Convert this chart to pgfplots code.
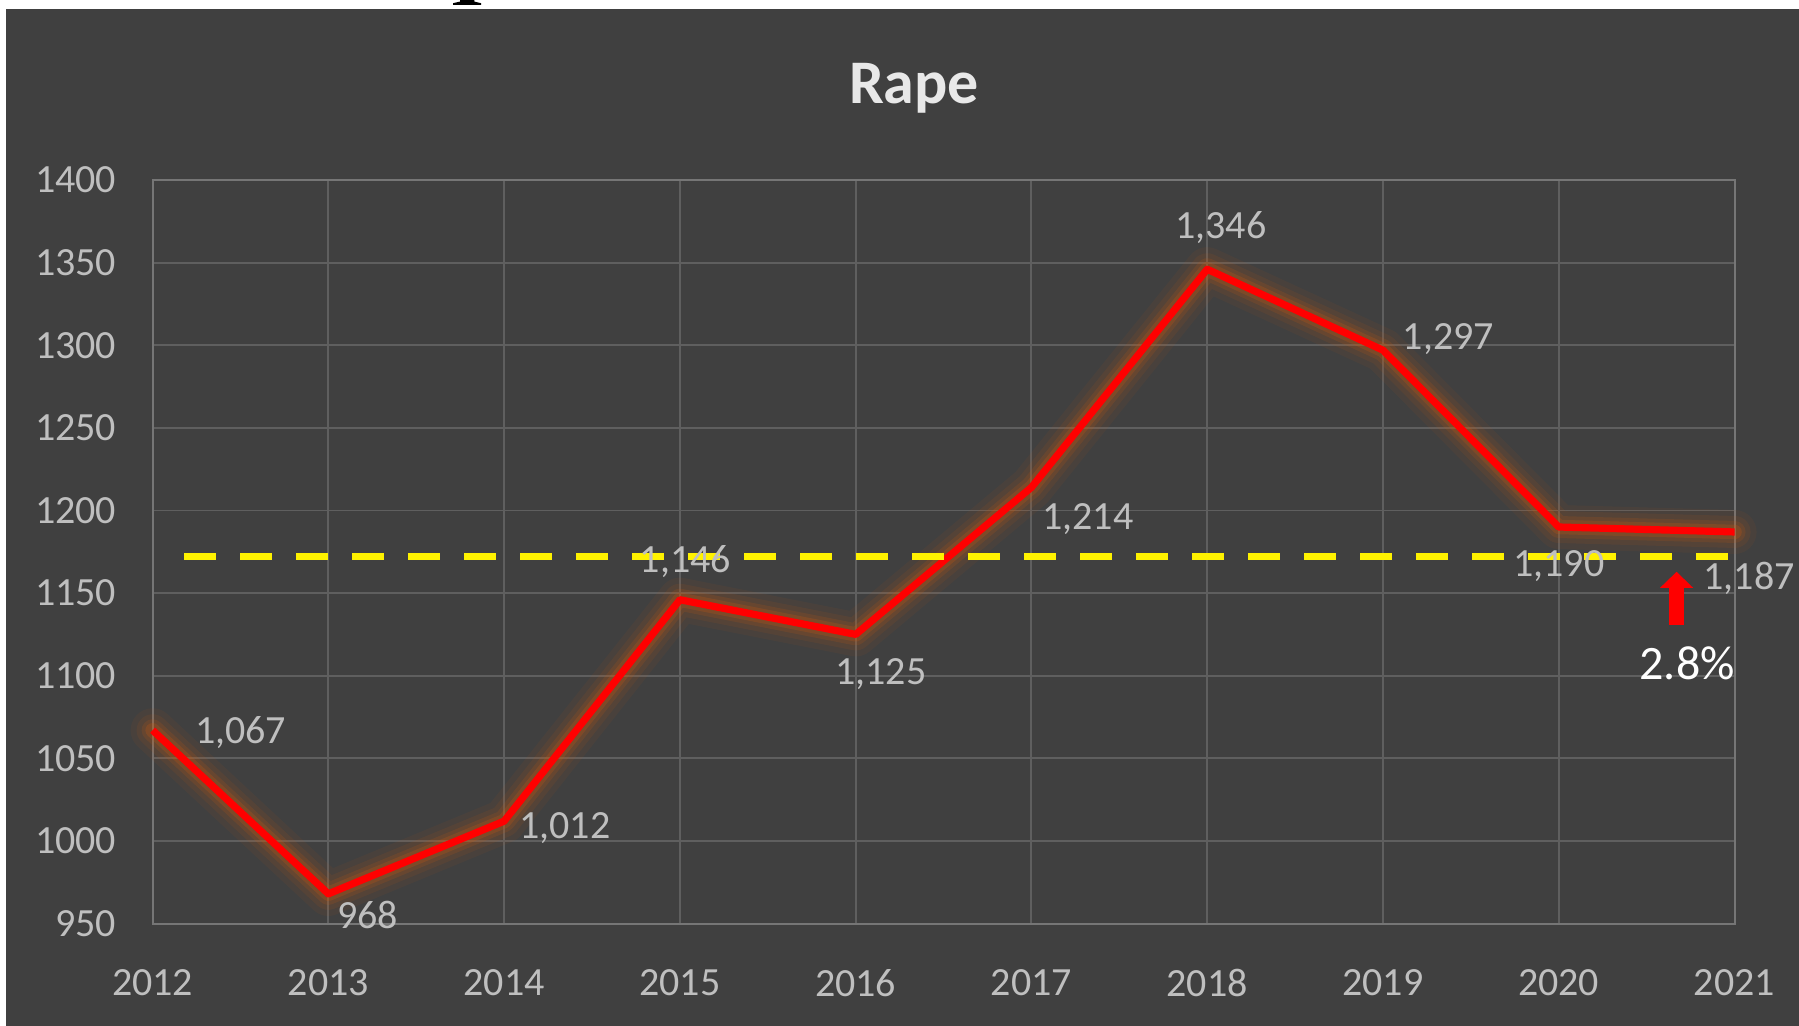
\documentclass[border=0pt]{standalone}
\usepackage{fontspec}
\setmainfont{Carlito}
\usepackage{pgfplots}
\pgfplotsset{compat=1.18}
\usetikzlibrary{arrows.meta}

\definecolor{bgc}{HTML}{404040}
\definecolor{gridc}{HTML}{5F5F5F}
\definecolor{axc}{HTML}{767676}
\definecolor{txtc}{HTML}{BFBFBF}
\definecolor{glowc}{HTML}{C65911}

\begin{document}
\begin{tikzpicture}
% page = 1799 x 1026 px at 0.25pt per px
\fill[white] (0,0) rectangle (449.75pt,256.5pt);
\useasboundingbox (0,0) rectangle (449.75pt,256.5pt);
\fill[bgc] (1.5pt,0) rectangle (449.75pt,254.25pt);
% foot of a letter cut off above the chart
\fill[black] (113.25pt,255.25pt) -- (120.25pt,255.25pt) -- (120.25pt,255.7pt)
  -- (118.6pt,256.1pt) -- (118.6pt,256.5pt) -- (115pt,256.5pt) -- (115pt,256.1pt)
  -- (113.25pt,255.7pt) -- cycle;

\node[font=\fontsize{15.5}{18}\selectfont\bfseries, text=white!82!gray, inner sep=0pt]
  at (228.5pt,234.5pt) {Rape};

\begin{axis}[
  at={(38.15pt,25.6pt)}, anchor=south west,
  scale only axis,
  width=395.5pt, height=185.9pt,
  xmin=2012, xmax=2021,
  ymin=950, ymax=1400,
  xtick={2012,...,2021},
  ytick={950,1000,...,1400},
  grid=major,
  major grid style={gridc, line width=0.45pt},
  axis line style={axc, line width=0.5pt},
  major tick length=0pt,
  tick label style={font=\fontsize{10}{12}\selectfont, text=txtc, inner sep=0pt},
  yticklabel style={xshift=-8.9pt},
  xticklabel style={yshift=-11.2pt},
  /pgf/number format/.cd, 1000 sep={}, assume math mode=true,
  /pgfplots/.cd,
  clip=false,
  every node/.append style={font=\fontsize{10}{12}\selectfont},
]
% glow under the line
\addplot[glowc, opacity=0.07, line width=11pt, line join=round, line cap=round]
  coordinates {(2012,1067) (2013,968) (2014,1012) (2015,1146) (2016,1125)
               (2017,1214) (2018,1346) (2019,1297) (2020,1190) (2021,1187)};
\addplot[glowc, opacity=0.10, line width=8pt, line join=round, line cap=round]
  coordinates {(2012,1067) (2013,968) (2014,1012) (2015,1146) (2016,1125)
               (2017,1214) (2018,1346) (2019,1297) (2020,1190) (2021,1187)};
\addplot[glowc, opacity=0.16, line width=5.5pt, line join=round, line cap=round]
  coordinates {(2012,1067) (2013,968) (2014,1012) (2015,1146) (2016,1125)
               (2017,1214) (2018,1346) (2019,1297) (2020,1190) (2021,1187)};
\addplot[glowc, opacity=0.25, line width=3.6pt, line join=round, line cap=round]
  coordinates {(2012,1067) (2013,968) (2014,1012) (2015,1146) (2016,1125)
               (2017,1214) (2018,1346) (2019,1297) (2020,1190) (2021,1187)};
% the series
\addplot[red, line width=1.8pt, line join=round]
  coordinates {(2012,1067) (2013,968) (2014,1012) (2015,1146) (2016,1125)
               (2017,1214) (2018,1346) (2019,1297) (2020,1190) (2021,1187)};

% yellow dashed reference line
\addplot[yellow, line width=1.7pt, dash pattern=on 8pt off 6pt]
  coordinates {(2012.18,1172) (2020.96,1172)};

% value labels
\tikzset{lbl/.style={text=txtc, inner sep=0pt, anchor=center}}
\node[lbl, xshift=22pt, yshift=-0.6pt] at (axis cs:2012,1067) {1,067};
\node[lbl, xshift=9.8pt, yshift=-5.4pt] at (axis cs:2013,968) {968};
\node[lbl, xshift=15.2pt, yshift=-1.7pt] at (axis cs:2014,1012) {1,012};
\node[lbl, xshift=1.4pt, yshift=9.5pt] at (axis cs:2015,1146) {1,146};
\node[lbl, xshift=6.3pt, yshift=-10pt] at (axis cs:2016,1125) {1,125};
\node[lbl, xshift=14.1pt, yshift=-8pt] at (axis cs:2017,1214) {1,214};
\node[lbl, xshift=3.4pt, yshift=10.4pt] at (axis cs:2018,1346) {1,346};
\node[lbl, xshift=16.35pt, yshift=2.7pt] at (axis cs:2019,1297) {1,297};
\node[lbl, xshift=0pt, yshift=-9.8pt] at (axis cs:2020,1190) {1,190};
\node[lbl, xshift=3.6pt, yshift=-11.5pt] at (axis cs:2021,1187) {1,187};

% change marker
\draw[red, line width=3.9pt, -{Triangle[width=8pt,length=4pt]}]
  (axis cs:2020.67,1130.6) -- (axis cs:2020.67,1162.9);
\node[text=white, inner sep=0pt, font=\fontsize{12}{14}\selectfont]
  at (axis cs:2020.73,1107.4) {2.8\%};
\end{axis}
\end{tikzpicture}
\end{document}
